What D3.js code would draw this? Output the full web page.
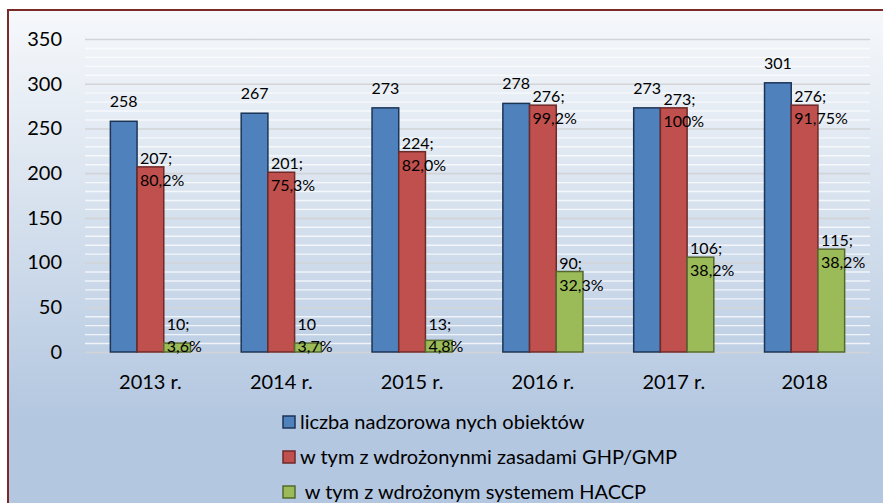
<!DOCTYPE html>
<html lang="pl">
<head>
<meta charset="UTF-8">
<script src="https://d3js.org/d3.v7.min.js"></script>
<style>
  body { margin: 0; background: #fff; }
  svg { display: block; font-family: Lato, "Open Sans", sans-serif; }
</style>
</head>
<body>
<div id="chart"></div>
<script>
// data
const years = ["2013 r.", "2014 r.", "2015 r.", "2016 r.", "2017 r.", "2018"];
const total = [258, 267, 273, 278, 273, 301];
const ghp = [207, 201, 224, 276, 273, 276];
const ghpHead = ["207;", "201;", "224;", "276;", "273;", "276;"];
const ghpPct = ["80,2%", "75,3%", "82,0%", "99,2%", "100%", "91,75%"];
const haccp = [10, 10, 13, 90, 106, 115];
const haccpHead = ["10;", "10", "13;", "90;", "106;", "115;"];
const haccpPct = ["3,6%", "3,7%", "4,8%", "32,3%", "38,2%", "38,2%"];
const seriesNames = [
  "liczba nadzorowa nych obiektów",
  "w tym z wdrożonynmi zasadami GHP/GMP",
  " w tym z wdrożonym systemem HACCP"
];
const yTicks = [0, 50, 100, 150, 200, 250, 300, 350];

const width = 883, height = 503;
const plotLeft = 85, plotRight = 870, plotTop = 39, plotBottom = 352;
const fills = ["#4f81bd", "#c0504d", "#9bbb59"];
const strokes = ["#1c3557", "#6e2a28", "#55692e"];

const svg = d3.select("#chart").append("svg")
  .attr("width", width).attr("height", height);

//-background
const grad = svg.append("defs").append("linearGradient")
  .attr("id", "bg")
  .attr("gradientUnits", "userSpaceOnUse")
  .attr("x1", 0).attr("y1", 10).attr("x2", 0).attr("y2", 420);
grad.append("stop").attr("offset", 0).attr("stop-color", "#f6f8fb");
grad.append("stop").attr("offset", 0.45).attr("stop-color", "#d9e3ef");
grad.append("stop").attr("offset", 1).attr("stop-color", "#b3c7e0");
svg.append("rect").attr("x", 8).attr("y", 10)
  .attr("width", width).attr("height", height)
  .attr("fill", "url(#bg)")
  .attr("stroke", "#7b2a2a").attr("stroke-width", 2);

//-scales
const y = d3.scaleLinear().domain([0, 350]).range([plotBottom, plotTop]);
const x0 = d3.scaleBand().domain(years).range([plotLeft, plotRight]).padding(0);
const x1 = d3.scaleBand().domain([0, 1, 2]).range([0, x0.bandwidth()])
  .paddingInner(0).paddingOuter(0.95);

//-minor grid
svg.append("g")
  .attr("transform", `translate(${plotLeft},0)`)
  .call(d3.axisLeft(y).tickValues(d3.range(10, 350, 10).filter(v => v % 50))
    .tickSize(-(plotRight - plotLeft)).tickFormat(""))
  .call(g => g.select(".domain").remove())
  .call(g => g.selectAll("line").attr("stroke", "#fbfcfe").attr("stroke-opacity", 0.8).attr("stroke-width", 1.4));

//-major grid
svg.append("g")
  .attr("transform", `translate(${plotLeft},0)`)
  .call(d3.axisLeft(y).tickValues(yTicks).tickSize(-(plotRight - plotLeft)).tickFormat(""))
  .call(g => g.select(".domain").remove())
  .call(g => g.selectAll("line").attr("stroke", "#d2d4d8").attr("stroke-width", 1.6));

//-y axis
svg.append("g")
  .attr("transform", `translate(${plotLeft},0)`)
  .call(d3.axisLeft(y).tickValues(yTicks).tickSize(0).tickPadding(23))
  .call(g => g.select(".domain").remove())
  .call(g => g.selectAll("text").attr("font-size", 20).attr("fill", "#000")
    .attr("font-family", "Lato, sans-serif"));

//-x axis
svg.append("g")
  .attr("transform", `translate(0,${plotBottom})`)
  .call(d3.axisBottom(x0).tickSize(0).tickPadding(23))
  .call(g => g.select(".domain").remove())
  .call(g => g.selectAll("text").attr("font-size", 20).attr("fill", "#000")
    .attr("font-family", "Lato, sans-serif"));

//-bars
const series = [total, ghp, haccp];
const groups = svg.selectAll("g.year")
  .data(years)
  .enter().append("g")
  .attr("class", "year")
  .attr("transform", d => `translate(${x0(d)},0)`);

groups.selectAll("rect")
  .data((d, i) => series.map((s, k) => ({ k, v: s[i] })))
  .enter().append("rect")
  .attr("x", d => x1(d.k))
  .attr("y", d => y(d.v))
  .attr("width", x1.bandwidth())
  .attr("height", d => y(0) - y(d.v))
  .attr("fill", d => fills[d.k])
  .attr("stroke", d => strokes[d.k])
  .attr("stroke-width", 1.5);

//-labels
const labels = svg.append("g").attr("font-size", 16).attr("fill", "#000");
years.forEach((yr, i) => {
  const bx = x0(yr);
  labels.append("text")
    .attr("x", bx + x1(0) + x1.bandwidth() / 2)
    .attr("y", y(total[i]) - 14)
    .attr("text-anchor", "middle")
    .text(total[i]);
  [[1, ghp, ghpHead, ghpPct], [2, haccp, haccpHead, haccpPct]].forEach(([k, s, head, pct]) => {
    const lx = bx + x1(k) + 3;
    const second = Math.min(y(s[i]) + 19, y(0));
    labels.append("text").attr("x", lx).attr("y", second - 22).text(head[i]);
    labels.append("text").attr("x", lx).attr("y", second).text(pct[i]);
  });
});

//-legend
const legend = svg.append("g").attr("transform", "translate(283,0)");
const legendY = [422, 457, 492];
seriesNames.forEach((name, k) => {
  legend.append("rect")
    .attr("x", 0).attr("y", legendY[k] - 6)
    .attr("width", 12).attr("height", 12)
    .attr("fill", fills[k]).attr("stroke", strokes[k]).attr("stroke-width", 1.5);
  legend.append("text")
    .attr("x", 17).attr("y", legendY[k])
    .attr("dy", "0.35em")
    .attr("font-size", 20)
    .style("white-space", "pre")
    .text(name);
});
</script>
</body>
</html>
